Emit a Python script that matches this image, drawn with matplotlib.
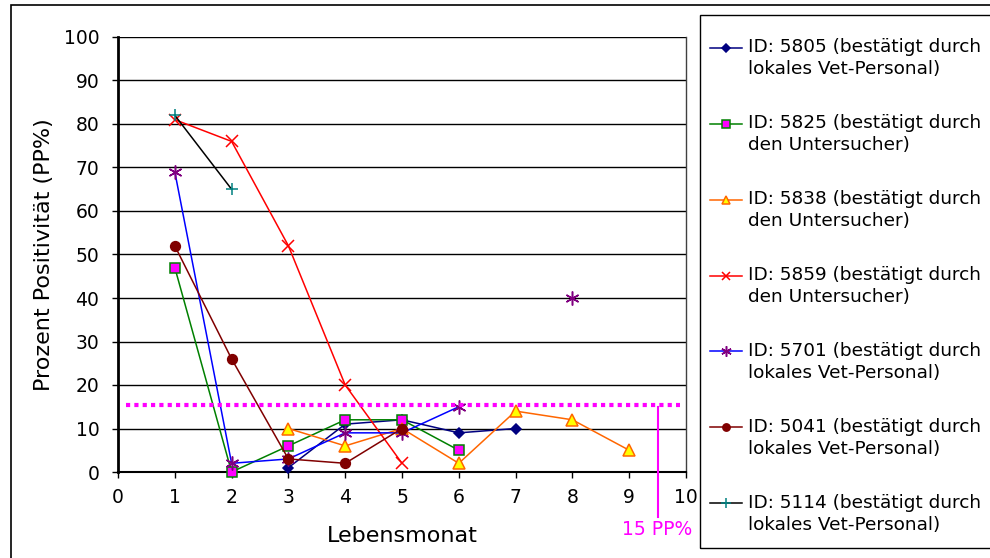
import numpy as np
import matplotlib
matplotlib.use("Agg")
import matplotlib.pyplot as plt
from matplotlib.patches import Rectangle
from matplotlib.legend_handler import HandlerLine2D

plt.rcParams['font.family'] = ['DejaVu Sans']

months = [1, 2, 3, 4, 5, 6, 7, 8, 9]
nan = np.nan
s5805 = [nan, nan, 1, 11, 12, 9, 10, nan, nan]
s5825 = [47, 0, 6, 12, 12, 5, nan, nan, nan]
s5838 = [nan, nan, 10, 6, 10, 2, 14, 12, 5]
s5859 = [81, 76, 52, 20, 2, nan, nan, nan, nan]
s5701 = [69, 2, 3, 9, 9, 15, nan, 40, nan]
s5041 = [52, 26, 3, 2, 10, nan, nan, nan, nan]
s5114 = [82, 65, nan, nan, nan, nan, nan, nan, nan]
threshold = 15.5

labels = [
    "ID: 5805 (bestätigt durch\nlokales Vet-Personal)",
    "ID: 5825 (bestätigt durch\nden Untersucher)",
    "ID: 5838 (bestätigt durch\nden Untersucher)",
    "ID: 5859 (bestätigt durch\nden Untersucher)",
    "ID: 5701 (bestätigt durch\nlokales Vet-Personal)",
    "ID: 5041 (bestätigt durch\nlokales Vet-Personal)",
    "ID: 5114 (bestätigt durch\nlokales Vet-Personal)",
]


class FirstLineHandler(HandlerLine2D):
    """Place the legend handle at the height of the first text line."""
    def create_artists(self, legend, orig_handle, xdescent, ydescent, width, height,
                       fontsize, trans):
        return super().create_artists(legend, orig_handle, xdescent, ydescent - 16.0,
                                      width, height, fontsize, trans)


W, H = 990, 558
fig = plt.figure(figsize=(W / 100, H / 100), dpi=100)
# outer chart border
fig.patches.append(Rectangle((11 / W, -0.1), 1.0, 1.1 - 5 / H, transform=fig.transFigure,
                             fill=False, edgecolor='black', linewidth=1.2))
# legend box
fig.patches.append(Rectangle((700 / W, 1 - 548 / H), 1.0, (548 - 15) / H,
                             transform=fig.transFigure, fill=False,
                             edgecolor='black', linewidth=1.0))
ax = fig.add_axes([118 / W, 1 - 472 / H, (686 - 118) / W, (472 - 37) / H])

styles = [
    dict(data=s5805, color='#000080', marker='D', mfc='#000080', mec='#000080', ms=5),
    dict(data=s5825, color='#008000', marker='s', mfc='#FF00FF', mec='#008000', ms=7),
    dict(data=s5838, color='#FF6600', marker='^', mfc='#FFFF00', mec='#FF6600', ms=8),
    dict(data=s5859, color='#FF0000', marker='x', mfc='#FF0000', mec='#FF0000', ms=8),
    dict(data=s5701, color='#0000FF', marker=(6, 2, 0), mfc='#800080', mec='#800080', ms=10),
    dict(data=s5041, color='#800000', marker='o', mfc='#800000', mec='#800000', ms=7),
    dict(data=s5114, color='#000000', marker='+', mfc='#008080', mec='#008080', ms=9),
]
handles = []
for st, lab in zip(styles, labels):
    h, = ax.plot(months, st['data'], color=st['color'], lw=1.1, marker=st['marker'],
                 markerfacecolor=st['mfc'], markeredgecolor=st['mec'], markersize=st['ms'],
                 markeredgewidth=1.1, label=lab, clip_on=False, zorder=3)
    handles.append(h)

# threshold line
ax.plot([0.14, 9.9], [threshold, threshold], color='#FF00FF', lw=3,
        linestyle=(0, (1, 1)), clip_on=False, zorder=4)
ax.plot([9.5, 9.5], [threshold - 0.5, -10.4], color='#FF00FF', lw=1.5, clip_on=False, zorder=4)
ax.text(9.5, -11.1, "15 PP%", color='#FF00FF', fontsize=13.5, ha='center', va='top')

ax.set_xlim(0, 10)
ax.set_ylim(0, 100)
ax.set_xticks(range(0, 11))
ax.set_yticks(range(0, 101, 10))
ax.yaxis.grid(True, color='black', lw=1)
ax.set_axisbelow(True)
ax.spines['top'].set_visible(False)
ax.spines['left'].set_linewidth(2)
ax.spines['bottom'].set_linewidth(1.5)
ax.spines['right'].set_linewidth(1)
ax.spines['right'].set_color('#404040')
ax.tick_params(axis='both', direction='out', length=4.5, width=1, labelsize=13.5)
ax.tick_params(axis='y', pad=9)
ax.tick_params(axis='x', pad=7)
ax.set_xlabel("Lebensmonat", fontsize=16, labelpad=13.5)
ax.set_ylabel("Prozent Positivität (PP%)", fontsize=16, labelpad=7)

fs = 13.3
leg = fig.legend(handles=handles, labels=labels, loc='upper left',
                 bbox_to_anchor=(710 / W, 1 - 38 / H), fontsize=fs,
                 frameon=False, handlelength=1.73, handletextpad=0.32,
                 labelspacing=1.92, borderpad=0, borderaxespad=0, markerscale=0.75,
                 handler_map={h: FirstLineHandler() for h in handles})
for t in leg.get_texts():
    t.set_linespacing(1.32)

fig.savefig("out.png", dpi=100)
